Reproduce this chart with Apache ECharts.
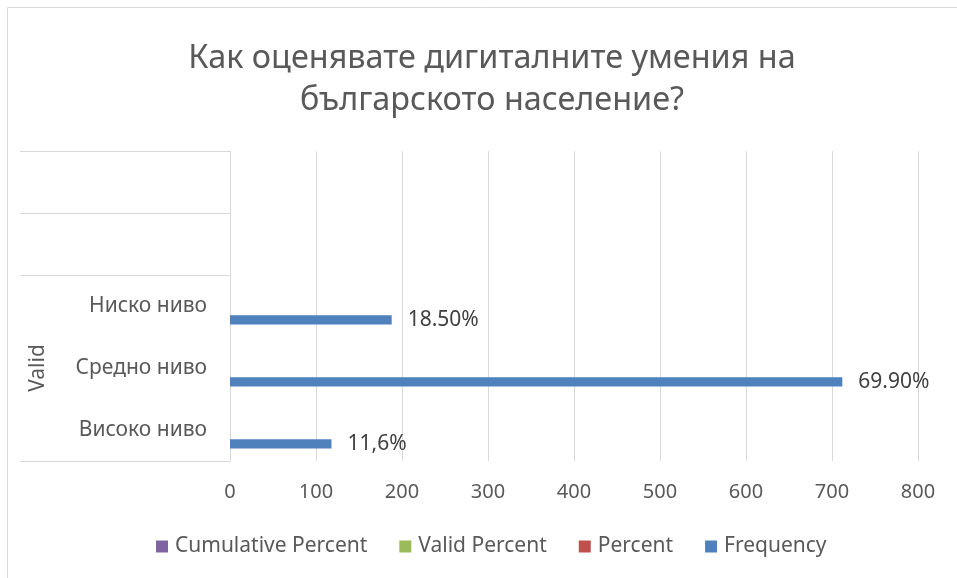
<!DOCTYPE html>
<html><head><meta charset="utf-8">
<script src="https://cdn.jsdelivr.net/npm/echarts@6/dist/echarts.min.js"></script>
<style>html,body{margin:0;padding:0;background:#fff}#c{width:957px;height:578px}</style>
</head><body><div id="c"></div>
<script>
const categories = ['Високо ниво', 'Средно ниво', 'Ниско ниво', '', ''];
const groupLabels = ['', 'Valid', '', '', ''];
const frequency = [118, 712, 188, null, null];
const percent = [null, null, null, null, null];
const validPercent = [null, null, null, null, null];
const cumulativePercent = [null, null, null, null, null];
const freqLabels = ['11,6%', '69.90%', '18.50%', '', ''];
const xTicks = { min: 0, max: 800, interval: 100 };
const legendOrder = ['Cumulative Percent', 'Valid Percent', 'Percent', 'Frequency'];

const FONT = 'Noto Sans';
const chart = echarts.init(document.getElementById('c'), null, { renderer: 'canvas' });
chart.setOption({
  backgroundColor: '#fff',
  animation: false,
  title: {
    text: 'Как оценявате дигиталните умения на\nбългарското население?',
    left: 487, top: 33, textAlign: 'center',
    textStyle: { fontFamily: FONT, fontSize: 32.4, fontWeight: 'normal', color: '#595959', lineHeight: 42, align: 'center' }
  },
  legend: {
    data: legendOrder, bottom: 16, left: 151, itemWidth: 12, itemHeight: 12, itemGap: 32,
    icon: 'rect',
    textStyle: { fontFamily: FONT, fontSize: 21, color: '#595959', padding: [0, 0, 0, 2] }
  },
  grid: { left: 230, right: 39, top: 151, bottom: 117, containLabel: false },
  xAxis: {
    type: 'value', min: xTicks.min, max: xTicks.max, interval: xTicks.interval,
    axisLine: { show: false }, axisTick: { show: false },
    splitLine: { lineStyle: { color: '#d9d9d9', width: 1 } },
    axisLabel: { fontFamily: FONT, fontSize: 20, color: '#595959', margin: 21 }
  },
  yAxis: [{
    type: 'category', data: categories,
    axisLine: { show: true, lineStyle: { color: '#d9d9d9' } },
    axisTick: { show: true, length: 210, lineStyle: { color: '#d9d9d9' },
      interval: function (i) { return i === 0 || i === 3 || i === 4; } },
    axisLabel: { fontFamily: FONT, fontSize: 21, color: '#595959', margin: 23, interval: 0 }
  }, {
    type: 'category', data: groupLabels, position: 'left',
    axisLine: { show: false }, axisTick: { show: false },
    axisLabel: { fontFamily: FONT, fontSize: 21, color: '#595959', rotate: 90, margin: 181, interval: 0 }
  }],
  graphic: [{
    type: 'rect', shape: { x: 7.5, y: 7.5, width: 1000, height: 1000 },
    style: { fill: 'none', stroke: '#d9d9d9', lineWidth: 1 }, silent: true, z: -1
  }],
  series: [
    { name: 'Cumulative Percent', type: 'bar', data: cumulativePercent, itemStyle: { color: '#8064A2' }, barGap: '0%', barCategoryGap: '40%' },
    { name: 'Valid Percent', type: 'bar', data: validPercent, itemStyle: { color: '#9BBB59' }, barGap: '0%', barCategoryGap: '40%' },
    { name: 'Percent', type: 'bar', data: percent, itemStyle: { color: '#C0504D' }, barGap: '0%', barCategoryGap: '40%' },
    { name: 'Frequency', type: 'bar', data: frequency, itemStyle: { color: '#4F81BD' },
      barGap: '0%', barCategoryGap: '40%',
      label: { show: true, position: 'right', distance: 16, fontFamily: FONT, fontSize: 21, color: '#404040',
        formatter: function (p) { return freqLabels[p.dataIndex]; } } }
  ]
});
</script></body></html>
